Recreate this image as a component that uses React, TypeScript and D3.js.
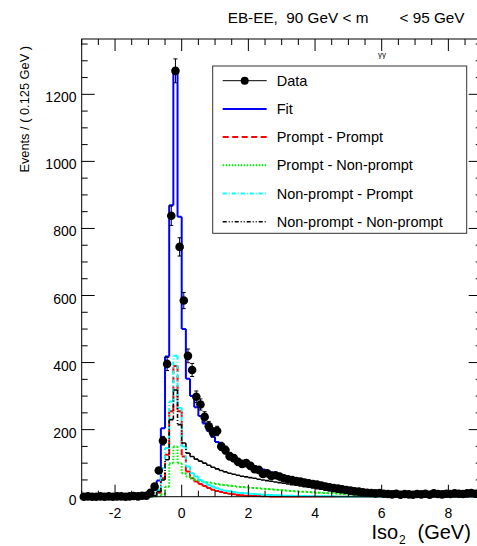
import React from "react";
import * as d3 from "d3";

// ---- data (per 0.125 GeV bin, Iso2 from -3 to 9 GeV) ----
const binStart = -3;
const binWidth = 0.125;

const dataCounts = [
  0, 1, 0, 0, 1, 0, 1, 0, 1, 1, 0, 1, 2, 1, 3,
  3, 12, 30, 78, 167, 396, 838, 1270, 745, 585, 420, 378, 298, 275, 238,
  210, 192, 196, 150, 139, 121, 115, 104, 98, 100, 92, 82, 80, 68, 70,
  62, 64, 60, 55, 52, 50, 47, 45, 42, 40, 38, 36, 33, 30, 28,
  26, 24, 22, 20, 18, 16, 15, 13, 12, 11, 10, 11, 9, 8, 7,
  9, 6, 8, 7, 6, 8, 7, 9, 6, 10, 8, 7, 9, 8, 10,
  9, 8, 10, 11, 9, 12,
];

const fitValues = [
  0, 0, 0, 0, 0, 0, 0, 0, 0, 0, 0, 0, 0, 0, 1,
  3, 8, 20, 48, 204, 418, 869, 1265, 835, 500, 352, 300, 267, 241, 218,
  197, 179, 163, 149, 138, 128, 120, 111, 105, 100, 96, 91, 86, 81, 77,
  73, 69, 66, 62, 59, 56, 52, 49, 47, 43, 40, 37, 35, 32, 29,
  27, 23, 21, 19, 17, 15, 14, 12, 11, 10, 9, 8, 8, 7, 7,
  7, 6, 6, 6, 6, 6, 6, 6, 6, 6, 6, 6, 6, 6, 6,
  6, 6, 6, 6, 6, 6,
];

const promptPrompt = [
  0, 0, 0, 0, 0, 0, 0, 0, 0, 0, 0, 0, 0, 0, 0,
  0, 0, 2, 12, 55, 125, 255, 390, 255, 120, 75, 55, 45, 38, 32,
  26, 21, 17, 14, 11, 9, 7, 5, 4, 3, 3, 2, 2, 1, 1,
  0, 0, 0, 0, 0, 0, 0, 0, 0, 0, 0, 0, 0, 0, 0,
  0, 0, 0, 0, 0, 0, 0, 0, 0, 0, 0, 0, 0, 0, 0,
  0, 0, 0, 0, 0, 0, 0, 0, 0, 0, 0, 0, 0, 0, 0,
  0, 0, 0, 0, 0, 0,
];

const promptNonPrompt = [
  0, 0, 0, 0, 0, 0, 0, 0, 0, 0, 0, 0, 0, 0, 0,
  0, 0, 0, 2, 8, 30, 100, 150, 100, 70, 60, 55, 50, 47, 44,
  42, 40, 38, 36, 35, 33, 32, 30, 29, 28, 27, 26, 25, 24, 23,
  22, 21, 20, 19, 18, 17, 16, 15, 15, 14, 13, 12, 12, 11, 10,
  10, 9, 8, 8, 7, 6, 6, 5, 5, 4, 4, 3, 3, 3, 2,
  2, 2, 2, 2, 2, 2, 2, 2, 2, 2, 2, 2, 2, 2, 2,
  2, 2, 2, 2, 2, 2,
];

const nonPromptPrompt = [
  0, 0, 0, 0, 0, 0, 0, 0, 0, 0, 0, 0, 0, 0, 0,
  0, 0, 3, 20, 85, 145, 284, 420, 265, 150, 90, 70, 60, 50, 42,
  35, 30, 25, 21, 18, 16, 14, 12, 11, 10, 9, 8, 7, 6, 5,
  5, 4, 4, 3, 3, 3, 2, 2, 2, 1, 1, 1, 1, 1, 1,
  1, 0, 0, 0, 0, 0, 0, 0, 0, 0, 0, 0, 0, 0, 0,
  0, 0, 0, 0, 0, 0, 0, 0, 0, 0, 0, 0, 0, 0, 0,
  0, 0, 0, 0, 0, 0,
];

const nonPromptNonPrompt = [
  0, 0, 0, 0, 0, 0, 0, 0, 0, 0, 0, 0, 0, 0, 0,
  0, 0, 3, 15, 50, 110, 230, 318, 215, 160, 130, 120, 112, 106, 100,
  94, 88, 83, 78, 74, 70, 67, 64, 61, 59, 57, 55, 52, 50, 48,
  46, 44, 42, 40, 38, 36, 34, 32, 30, 28, 26, 24, 22, 20, 18,
  16, 14, 13, 11, 10, 9, 8, 7, 6, 5, 5, 4, 4, 4, 4,
  4, 4, 4, 4, 4, 4, 4, 4, 4, 4, 4, 4, 4, 4, 4,
  4, 4, 4, 4, 4, 4,
];

const xMajorTicks = [-2, 0, 2, 4, 6, 8];
const yMajorTicks = [0, 200, 400, 600, 800, 1000, 1200];
const legendLabels = [
  "Data",
  "Fit",
  "Prompt - Prompt",
  "Prompt - Non-prompt",
  "Non-prompt - Prompt",
  "Non-prompt - Non-prompt",
];

// ---- layout / style ----
const W = 477;
const H = 546;
const L = 81.7;
const R = 481.7;
const T = 39;
const B = 496.7;
const FONT = "'Liberation Sans', Arial, Helvetica, sans-serif";

const curves = [
  { vals: fitValues, color: "#0000ff", dash: "", width: 2, legend: 1 },
  { vals: promptPrompt, color: "#ff0000", dash: "6,3.5", width: 2, legend: 2 },
  { vals: promptNonPrompt, color: "#00ee00", dash: "1.5,1.5", width: 2, legend: 3 },
  { vals: nonPromptPrompt, color: "#00ffff", dash: "4,2,1,2", width: 2, legend: 4 },
  { vals: nonPromptNonPrompt, color: "#000000", dash: "4,2,1,2,1,2", width: 1.6, legend: 5 },
];

export default function App() {
  const x = d3.scaleLinear().domain([-3, 9]).range([L, R]);
  const y = d3.scaleLinear().domain([0, 1365]).range([B, T]);
  const edge = (i: number) => x(binStart + i * binWidth);

  const stepPath = (vals: number[]) => {
    const segs: string[] = [];
    let prevY = y(0);
    for (let i = 0; i < vals.length; i++) {
      const x0 = edge(i);
      const x1 = edge(i + 1);
      const yi = y(vals[i]);
      if (Math.abs(yi - prevY) > 0.01) segs.push(`M${x0},${prevY}L${x0},${yi}`);
      segs.push(`M${x0},${yi}L${x1},${yi}`);
      prevY = yi;
    }
    return segs.join("");
  };

  const xMinor = d3.range(-3, 9.001, 0.5);
  const yMinor = d3.range(0, 1365, 50);

  const legX = 212.7;
  const legY = 66;
  const legW = 254;
  const legH = 167.3;
  const rowY = (k: number) => 80.7 + k * 28.2;

  return (
    <svg
      width={W}
      height={H}
      style={{ position: "absolute", left: 0, top: 0, background: "#fff" }}
      fontFamily={FONT}
    >
      <rect x={0} y={0} width={W} height={H} fill="#fff" />
      <defs>
        <clipPath id="plotClip">
          <rect x={L} y={T} width={R - L} height={B - T + 1} />
        </clipPath>
      </defs>

      {/* title */}
      <text x={227.7} y={22.7} fontSize={15.3} fill="#000" style={{ whiteSpace: "pre" }}>
        {"EB-EE,  90 GeV < m"}
      </text>
      <text x={378} y={57} fontSize={8} fill="#000">
        γγ
      </text>
      <text x={399.5} y={22.7} fontSize={15.3} fill="#000" style={{ whiteSpace: "pre" }}>
        {"< 95 GeV"}
      </text>

      {/* curves */}
      <g clipPath="url(#plotClip)">
        {curves.map((c, k) => (
          <path
            key={k}
            d={stepPath(c.vals)}
            fill="none"
            stroke={c.color}
            strokeWidth={c.width}
            strokeDasharray={c.dash || undefined}
            strokeLinecap="butt"
          />
        ))}
      </g>

      {/* frame */}
      <rect x={L} y={T} width={R - L} height={B - T} fill="none" stroke="#000" strokeWidth={1} />

      {/* x ticks */}
      {xMinor.map((v) => {
        const major = Math.abs(v - Math.round(v)) < 1e-6 && Math.round(v) % 2 === 0;
        const len = major ? 12 : 6;
        return (
          <g key={"xt" + v}>
            <line x1={x(v)} x2={x(v)} y1={B} y2={B - len} stroke="#000" strokeWidth={1} />
            <line x1={x(v)} x2={x(v)} y1={T} y2={T + len} stroke="#000" strokeWidth={1} />
          </g>
        );
      })}
      {xMajorTicks.map((v) => (
        <text key={"xl" + v} x={x(v)} y={518.3} fontSize={14} textAnchor="middle" fill="#000">
          {v}
        </text>
      ))}

      {/* y ticks */}
      {yMinor.map((v) => {
        const major = v % 200 === 0;
        const len = major ? 13 : 6;
        return (
          <g key={"yt" + v}>
            <line x1={L} x2={L + len} y1={y(v)} y2={y(v)} stroke="#000" strokeWidth={1} />
            <line x1={R} x2={R - len} y1={y(v)} y2={y(v)} stroke="#000" strokeWidth={1} />
          </g>
        );
      })}
      {yMajorTicks.map((v) => (
        <text key={"yl" + v} x={76.5} y={y(v) + 8} fontSize={14} textAnchor="end" fill="#000">
          {v}
        </text>
      ))}

      {/* axis titles */}
      <text
        transform={`translate(28.5,46) rotate(-90)`}
        fontSize={12.8}
        textAnchor="end"
        fill="#000"
      >
        Events / ( 0.125 GeV )
      </text>
      <text x={371.5} y={539} fontSize={20} fill="#000">
        Iso
      </text>
      <text x={399} y={544} fontSize={12} fill="#000">
        2
      </text>
      <text x={417.5} y={539} fontSize={20} fill="#000">
        (GeV)
      </text>

      {/* data points */}
      <g>
        {dataCounts.map((n, i) => {
          const cx = x(binStart + (i + 0.5) * binWidth);
          const cy = y(n);
          const err = Math.sqrt(n);
          return (
            <g key={"d" + i}>
              {n > 0 && (
                <g stroke="#000" strokeWidth={1}>
                  <line x1={cx} x2={cx} y1={y(n + err)} y2={y(Math.max(0, n - err))} />
                  <line x1={cx - 2} x2={cx + 2} y1={y(n + err)} y2={y(n + err)} />
                  <line x1={cx - 2} x2={cx + 2} y1={y(Math.max(0, n - err))} y2={y(Math.max(0, n - err))} />
                </g>
              )}
              <circle cx={cx} cy={cy} r={4.3} fill="#000" />
            </g>
          );
        })}
      </g>

      {/* legend */}
      <rect x={legX} y={legY} width={legW} height={legH} fill="#fff" stroke="#333" strokeWidth={1} />
      {legendLabels.map((lab, k) => {
        const ly = rowY(k);
        const c = curves.find((cc) => cc.legend === k);
        return (
          <g key={"lg" + k}>
            {k === 0 ? (
              <g>
                <line x1={222.7} x2={266.7} y1={ly} y2={ly} stroke="#000" strokeWidth={1} />
                <circle cx={244.7} cy={ly} r={4} fill="#000" />
              </g>
            ) : (
              c && (
                <line
                  x1={222.7}
                  x2={266.7}
                  y1={ly}
                  y2={ly}
                  stroke={c.color}
                  strokeWidth={c.width}
                  strokeDasharray={c.dash || undefined}
                />
              )
            )}
            <text x={276.7} y={ly + 5} fontSize={14.5} fill="#000">
              {lab}
            </text>
          </g>
        );
      })}
    </svg>
  );
}
